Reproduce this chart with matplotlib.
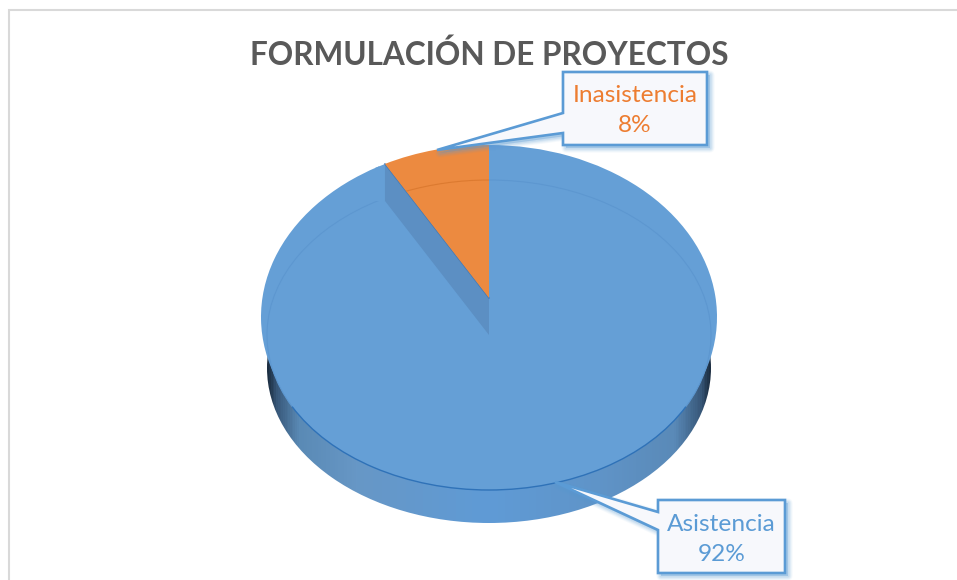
import numpy as np
import matplotlib
matplotlib.use("Agg")
import matplotlib.pyplot as plt
from matplotlib.patches import Polygon, Ellipse, Arc
from matplotlib.colors import LinearSegmentedColormap

# Data
categories = ["Asistencia", "Inasistencia"]
values = [92, 8]
title = "FORMULACIÓN DE PROYECTOS"
face_colors = ["#659fd6", "#ec8a40"]

W, H = 957, 580
CX = 489
plt.rcParams["font.family"] = ["Lato", "DejaVu Sans"]
fig = plt.figure(figsize=(W / 100, H / 100), dpi=100, facecolor="white")


def pixel_axes(z):
    ax = fig.add_axes([0, 0, 1, 1], zorder=z)
    ax.set_xlim(0, W)
    ax.set_ylim(H, 0)
    ax.axis("off")
    return ax


def pie_layer(cy, rx, ry, colors, z):
    ax = fig.add_axes([(CX - rx) / W, 1 - (cy + ry) / H, 2 * rx / W, 2 * ry / H], zorder=z)
    wedges, _ = ax.pie(values, colors=colors, startangle=90, counterclock=False,
                       radius=1, wedgeprops={"linewidth": 0})
    ax.set_aspect("auto")
    ax.set_xlim(-1, 1)
    ax.set_ylim(-1, 1)
    ax.axis("off")
    return ax, wedges


# Chart frame
bg = pixel_axes(0)
bg.plot([9, 9, W + 2], [H + 2, 10, 10], color="#d9d9d9", lw=1.5, solid_joinstyle="miter")

# Side of the disc: horizontal gradient clipped to the lowered ellipse
side_cmap = LinearSegmentedColormap.from_list("side", [
    (0.00, "#1c2e42"), (0.02, "#38587a"), (0.07, "#5a8ab5"), (0.20, "#6797c6"),
    (0.50, "#5f9bd6"), (0.75, "#6094c8"), (0.92, "#5a8ab8"), (0.98, "#38587a"), (1.00, "#1c2e42")])
grad = np.linspace(0, 1, 444).reshape(1, -1)
im = bg.imshow(grad, cmap=side_cmap, extent=[267, 711, 530, 300], aspect="auto", zorder=1)
bg.set_xlim(0, W)
bg.set_ylim(H, 0)
side_clip = Ellipse((CX, 368), 444, 310, transform=bg.transData, facecolor="none", edgecolor="none")
bg.add_patch(side_clip)
im.set_clip_path(side_clip)

# Upper blue rim and face
pie_layer(317, 228, 172, [face_colors[0], "none"], 1)
pie_layer(335, 222, 155, [face_colors[0], "none"], 2)

# Bevel lines and the inner wall of the blue slice
mid = pixel_axes(3)
mid.add_patch(Arc((CX, 335), 444, 310, theta1=160, theta2=380, color="#5d97d0", lw=0.8))
mid.add_patch(Arc((CX, 335), 444, 310, theta1=20, theta2=160, color="#2f72b8", lw=1.0))

share = values[1] / sum(values)
theta = 2 * np.pi * share
rx_o, ry_o = 216, 153
top_y, low_y = 298, 335
rim_x = CX - rx_o * np.sin(theta)
rim_dy = ry_o * np.cos(theta)
# small rim piece closing the gap between the outer wedge and the wall
mid.add_patch(Polygon([(rim_x, top_y - rim_dy), (rim_x, low_y - rim_dy),
                       (rim_x - 10, low_y - rim_dy), (rim_x - 10, top_y - rim_dy + 4)],
                      closed=True, facecolor=face_colors[0], edgecolor="none"))
mid.add_patch(Polygon([(rim_x, top_y - rim_dy), (CX, top_y), (CX, low_y), (rim_x, low_y - rim_dy)],
                      closed=True, facecolor="#5c8fc3", edgecolor="none"))
mid.plot([rim_x, CX], [top_y - rim_dy, top_y], color="#3f78b6", lw=1.0)

# Raised orange slice
_, orange = pie_layer(top_y, rx_o, ry_o, ["none", face_colors[1]], 4)
top = pixel_axes(5)
line = Arc((CX, 335), 444, 310, theta1=180, theta2=360, color="#dc7a30", lw=0.8)
top.add_patch(line)
line.set_clip_path(orange[1])


def callout(pts, text, color, tx, ty):
    for lw, a in [(9, 0.06), (7, 0.08), (5, 0.10), (3, 0.14)]:
        shifted = [(x + 3, y + 3) for x, y in pts]
        top.add_patch(Polygon(shifted, closed=True, facecolor="#5b9bd5", edgecolor="#5b9bd5",
                              lw=lw * 0.72, alpha=a, joinstyle="round"))
    top.add_patch(Polygon(pts, closed=True, facecolor="#f7f8fc", edgecolor="#5b9bd5",
                          lw=1.9, joinstyle="miter"))
    top.text(tx, ty, text, color=color, fontsize=17.6, ha="center", va="center", linespacing=1.55)


callout([(563, 72), (707, 72), (707, 145), (563, 145), (563, 133), (437, 150), (563, 113)],
        f"{categories[1]}\n{values[1]}%", "#ed7d31", 635, 110.5)
callout([(658, 500), (785, 500), (785, 573), (658, 573), (658, 530), (555, 482), (658, 512)],
        f"{categories[0]}\n{values[0]}%", "#5b9bd5", 721.5, 539.5)

top.text(CX, 55, title, color="#595959", fontsize=22.7, fontweight="bold", ha="center", va="center")

fig.savefig("out.png", dpi=100)
